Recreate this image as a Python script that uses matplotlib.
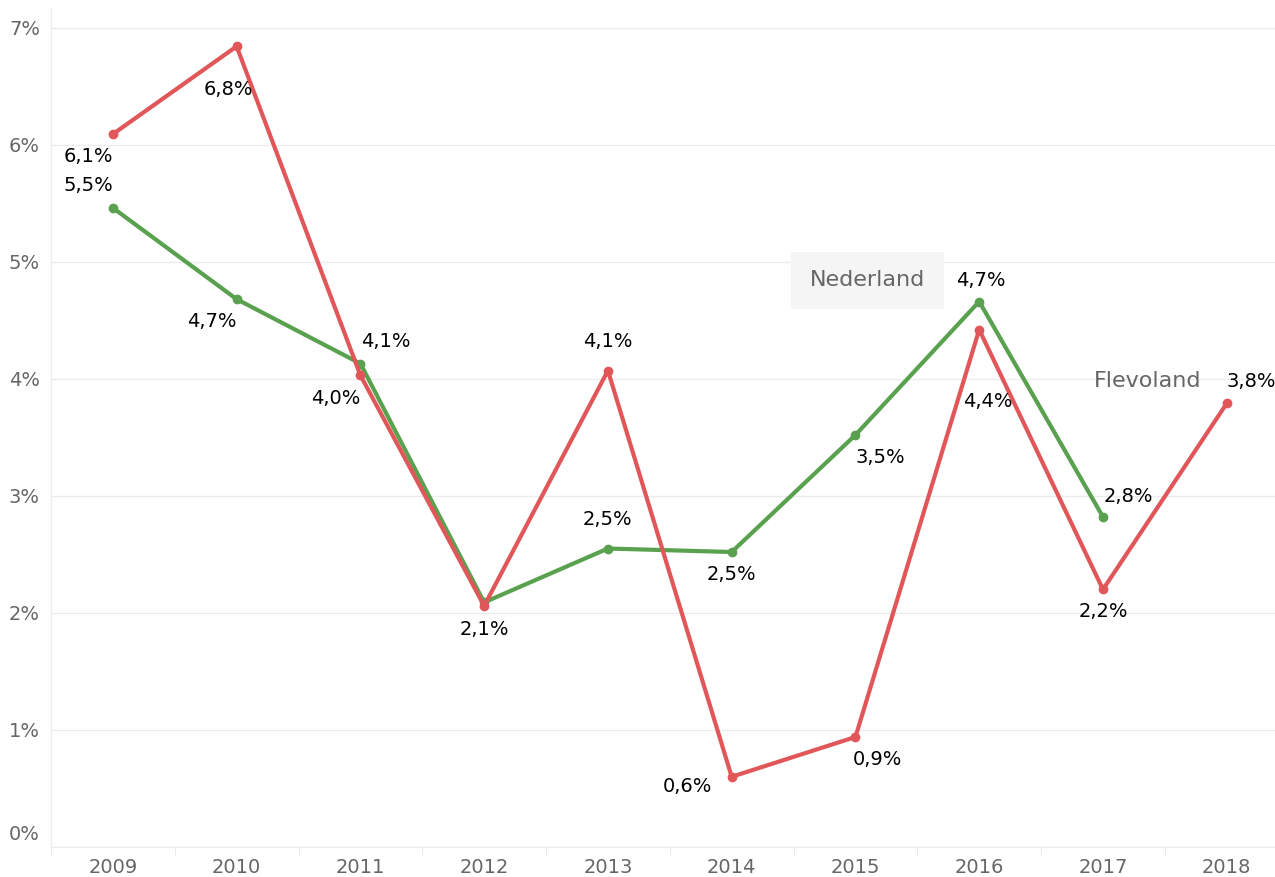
import matplotlib.pyplot as plt
import matplotlib.transforms as mtrans
import numpy as np

years = ['2009', '2010', '2011', '2012', '2013', '2014', '2015', '2016', '2017', '2018']
flevoland = [6.09, 6.84, 4.03, 2.06, 4.07, 0.60, 0.94, 4.42, 2.20, 3.79]
nederland = [5.46, 4.68, 4.13, 2.09, 2.55, 2.52, 3.52, 4.66, 2.82]

# label offsets in points (dx, dy) per point
off_flev = [(-18, -16), (-6, -31), (-18, -17), (0, -17), (0, 21),
            (-32, -7), (16, -16), (6, -52), (0, -16), (18, 16)]
off_ned = [(-18, 16), (-18, -16), (18, 16), (0, 0), (0, 21),
           (0, -16), (18, -16), (1, 15), (18, 15)]

red = '#e15759'
green = '#59a14f'

plt.rcParams['font.family'] = ['DejaVu Sans']
fig = plt.figure(figsize=(12.75, 8.77), dpi=100)
ax = fig.add_axes([0.04, 0.0342, 0.96, 0.957])

x = np.arange(len(years))
ax.plot(x[:len(nederland)], nederland, color=green, lw=3, marker='o', ms=6, zorder=3)
ax.plot(x, flevoland, color=red, lw=3, marker='o', ms=6, zorder=4)

def fmt(v):
    return ('%.1f%%' % v).replace('.', ',')

for i, v in enumerate(flevoland):
    dx, dy = off_flev[i]
    ax.annotate(fmt(v), (x[i], v), xytext=(dx, dy), textcoords='offset points',
                ha='center', va='center', fontsize=14, color='black', zorder=5)
for i, v in enumerate(nederland):
    if i == 3:
        continue
    dx, dy = off_ned[i]
    ax.annotate(fmt(v), (x[i], v), xytext=(dx, dy), textcoords='offset points',
                ha='center', va='center', fontsize=14, color='black', zorder=5)

ax.text(6.1, 4.84, 'Nederland', fontsize=16, color='#666666', ha='center', va='center',
        bbox=dict(boxstyle='square,pad=0.85', fc='#f5f5f5', ec='none'))
ax.text(8.36, 3.98, 'Flevoland', fontsize=16, color='#666666', ha='center', va='center')

ax.set_xlim(-0.5, 9.39)
ax.set_ylim(0, 7.17)
ax.set_yticks(range(8))
ax.set_yticklabels(['%d%%' % t for t in range(8)], fontsize=14, color='#666666')
ax.set_xticks(x)
ax.set_xticklabels(years, fontsize=14, color='#666666')
ax.set_xticks(np.arange(-0.5, 9.5, 1), minor=True)
ax.tick_params(axis='x', which='major', length=0, pad=8)
ax.tick_params(axis='x', which='minor', length=6, color='#e6e6e6')
ax.tick_params(axis='y', length=0, pad=8)

# lift the 0% label a bit, like the original
lbl0 = ax.get_yticklabels()[0]
lbl0.set_transform(lbl0.get_transform() + mtrans.ScaledTranslation(0, 15 / 100, fig.dpi_scale_trans))

ax.grid(axis='y', color='#ececec', lw=1)
ax.set_axisbelow(True)
for s in ['top', 'right']:
    ax.spines[s].set_visible(False)
ax.spines['left'].set_color('#ececec')
ax.spines['bottom'].set_color('#ececec')

plt.savefig('out.png', dpi=100)
